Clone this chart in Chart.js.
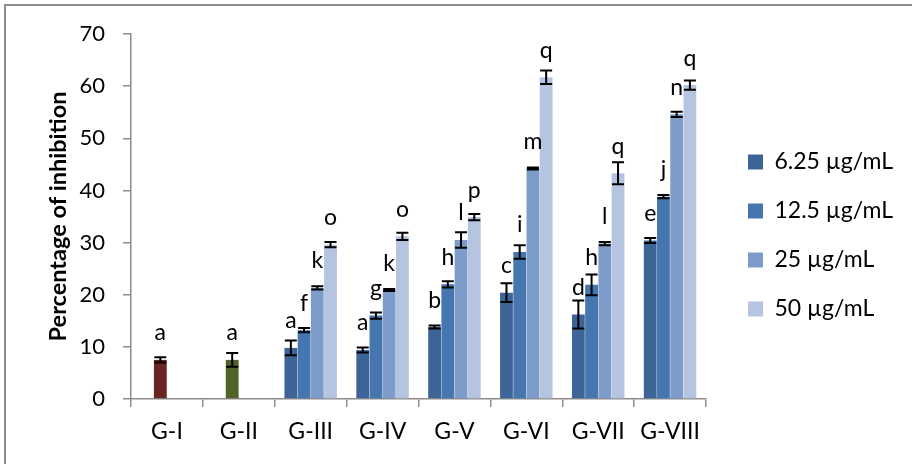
<!DOCTYPE html>
<html>
<head>
<meta charset="utf-8">
<script src="https://cdn.jsdelivr.net/npm/chart.js@4/dist/chart.umd.min.js"></script>
<style>
  html, body { margin: 0; padding: 0; background: #fff; overflow: hidden; }
  #marco { position: absolute; left: 4px; top: 4px; width: 940px; height: 490px;
           border-left: 2px solid #8c8c8c; border-top: 2px solid #8c8c8c; pointer-events: none; }
  #caja { position: absolute; left: 0; top: 0; width: 912px; height: 464px; }
</style>
</head>
<body>
<div id="caja"><canvas id="miGrafico" width="912" height="464"></canvas></div>
<div id="marco"></div>
<script>
// Datos
const grupos = ['G-I', 'G-II', 'G-III', 'G-IV', 'G-V', 'G-VI', 'G-VII', 'G-VIII'];
const series = ['6.25 µg/mL', '12.5 µg/mL', '25 µg/mL', '50 µg/mL'];

const v625 = [null, null, 9.8, 9.4, 13.8, 20.4, 16.2, 30.4];
const v125 = [7.5, 7.5, 13.2, 16.0, 22.0, 28.2, 21.9, 38.8];
const v25  = [null, null, 21.3, 20.9, 30.5, 44.2, 29.8, 54.6];
const v50  = [null, null, 29.6, 31.2, 34.9, 61.7, 43.3, 60.2];

const e625 = [0, 0, 1.4, 0.5, 0.3, 1.8, 2.7, 0.5];
const e125 = [0.5, 1.3, 0.4, 0.6, 0.6, 1.3, 2.0, 0.3];
const e25  = [0, 0, 0.3, 0.2, 1.5, 0.2, 0.3, 0.5];
const e50  = [0, 0, 0.5, 0.7, 0.6, 1.3, 2.1, 0.9];

const l625 = ['', '', 'a', 'a', 'b', 'c', 'd', 'e'];
const l125 = ['a', 'a', 'f', 'g', 'h', 'i', 'h', 'j'];
const l25  = ['', '', 'k', 'k', 'l', 'm', 'l', 'n'];
const l50  = ['', '', 'o', 'o', 'p', 'q', 'q', 'q'];

const colores = ['#3c6496', '#4676b0', '#7e9cc9', '#b5c4e0'];
const colores125 = ['#6b2424', '#4f6228', '#4676b0', '#4676b0', '#4676b0', '#4676b0', '#4676b0', '#4676b0'];

const errores = [e625, e125, e25, e50];
const letras = [l625, l125, l25, l50];

const fuente = 'Lato, "Open Sans", sans-serif';
const gris = '#8c8c8c';

// Barras de error y letras
const errorPlugin = {
    id: 'errores',
    afterLayout(chart) {
        // leyenda un poco separada del area del grafico y algo mas arriba
        const lg = chart.legend;
        const w = lg.right - lg.left;
        lg.left = 722;
        lg.right = 722 + w;
        lg.bottom = 437;
        lg.height = lg.bottom - lg.top;
    },
    afterDatasetsDraw(chart) {
        const ctx = chart.ctx;
        const y = chart.scales.y;
        chart.data.datasets.forEach((ds, i) => {
            const meta = chart.getDatasetMeta(i);
            meta.data.forEach((bar, j) => {
                const v = ds.data[j];
                if (v === null || v === undefined) return;
                const e = errores[i][j];
                const x = bar.x;
                const yA = y.getPixelForValue(v + e);
                const yB = y.getPixelForValue(v - e);
                ctx.save();
                ctx.strokeStyle = '#000';
                ctx.lineWidth = 2;
                ctx.beginPath();
                ctx.moveTo(x, yA); ctx.lineTo(x, yB);
                ctx.moveTo(x - 6, yA); ctx.lineTo(x + 6, yA);
                ctx.moveTo(x - 6, yB); ctx.lineTo(x + 6, yB);
                ctx.stroke();
                ctx.fillStyle = '#000';
                ctx.font = '23px ' + fuente;
                ctx.textAlign = 'center';
                ctx.textBaseline = 'alphabetic';
                ctx.fillText(letras[i][j], x, y.getPixelForValue(v) - 19.5);
                ctx.restore();
            });
        });
    }
};

const chartData = {
    labels: grupos,
    datasets: [
        { label: series[0], data: v625, backgroundColor: colores[0] },
        { label: series[1], data: v125, backgroundColor: colores125 },
        { label: series[2], data: v25, backgroundColor: colores[2] },
        { label: series[3], data: v50, backgroundColor: colores[3] },
    ]
};

new Chart(document.getElementById('miGrafico'), {
    type: 'bar',
    data: chartData,
    plugins: [errorPlugin],
    options: {
        responsive: false,
        animation: false,
        datasets: { bar: { categoryPercentage: 0.736, barPercentage: 0.97, borderWidth: 0 } },
        layout: { padding: { left: 44, top: 34, right: 26, bottom: 0 } },
        scales: {
            x: {
                offset: true,
                grid: { offset: true, drawOnChartArea: false, tickLength: 8, color: gris, lineWidth: 1.5 },
                border: { color: gris, width: 1.5 },
                ticks: { color: '#000', font: { family: fuente, size: 23 }, padding: 11 },
                afterFit(s) { s.height = 65; }
            },
            y: {
                min: 0, max: 70,
                grid: { drawOnChartArea: false, tickLength: 8, color: gris, lineWidth: 1.5 },
                border: { color: gris, width: 1.5 },
                ticks: { stepSize: 10, color: '#000', font: { family: fuente, size: 22 }, padding: 18 },
                title: { display: true, text: 'Percentage of inhibition', color: '#000',
                         font: { family: fuente, size: 23.5, weight: 'bold' }, padding: 0 },
                afterFit(s) { s.width = 87; }
            }
        },
        plugins: {
            legend: {
                position: 'right',
                maxWidth: 180,
                labels: {
                    color: '#000',
                    font: { family: fuente, size: 23 },
                    boxWidth: 15, boxHeight: 15,
                    padding: 26,
                    generateLabels(chart) {
                        const items = Chart.defaults.plugins.legend.labels.generateLabels(chart);
                        items.forEach((it, k) => { it.fillStyle = colores[k]; it.strokeStyle = colores[k]; it.lineWidth = 0; });
                        return items;
                    }
                }
            },
            tooltip: { enabled: false }
        }
    }
});
</script>
</body>
</html>
